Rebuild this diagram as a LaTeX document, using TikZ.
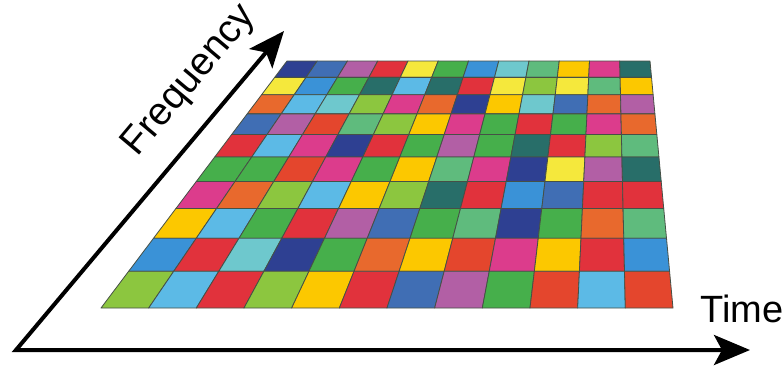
\documentclass[tikz,border=0pt]{standalone}
\usepackage{fontspec}
\setmainfont{Liberation Sans}
\usetikzlibrary{arrows.meta,calc}
\definecolor{cnavy}{RGB}{46,64,146}
\definecolor{cblue}{RGB}{64,110,180}
\definecolor{cazure}{RGB}{58,146,215}
\definecolor{csky}{RGB}{92,186,230}
\definecolor{caqua}{RGB}{110,200,205}
\definecolor{cteal}{RGB}{40,110,105}
\definecolor{cgreen}{RGB}{70,175,75}
\definecolor{clime}{RGB}{140,198,63}
\definecolor{cmint}{RGB}{95,187,125}
\definecolor{cyellow}{RGB}{245,232,60}
\definecolor{cgold}{RGB}{252,200,0}
\definecolor{corange}{RGB}{232,105,45}
\definecolor{cred}{RGB}{225,50,60}
\definecolor{cflame}{RGB}{228,70,45}
\definecolor{cmagenta}{RGB}{220,60,140}
\definecolor{cpurple}{RGB}{178,95,165}
\definecolor{gridline}{RGB}{70,80,70}

\begin{document}
\begin{tikzpicture}[x=0.5pt,y=-0.5pt,
    cell/.style={draw=gridline, line width=0.4pt, line join=round},
    axis/.style={line width=2pt, line join=miter,
        {Stealth[length=18pt,width=15pt,inset=4pt]}-{Stealth[length=18pt,width=15pt,inset=4pt]}},
    axislabel/.style={font=\fontsize{19}{21}\selectfont, inner sep=0pt}]
    \useasboundingbox (0,0) rectangle (784,366);
    % Corners of the plane
    \coordinate (TL) at (287,61);
    \coordinate (TR) at (650,61);
    \coordinate (BL) at (101,308);
    \coordinate (BR) at (673,308);
    % Cells, far row first (perspective rows)
    \foreach \rowcols [count=\r] in {
        {cnavy,cblue,cpurple,cred,cyellow,cgreen,cazure,caqua,cmint,cgold,cmagenta,cteal},
        {cyellow,cazure,cgreen,cteal,csky,cteal,cred,cyellow,clime,cyellow,cmint,cgold},
        {corange,csky,caqua,clime,cmagenta,corange,cnavy,cgold,caqua,cblue,corange,cpurple},
        {cblue,cpurple,cflame,cmint,clime,cgold,cmagenta,cgreen,cred,cgreen,cmagenta,corange},
        {cred,csky,cmagenta,cnavy,cred,cgreen,cpurple,cgreen,cteal,cred,clime,cmint},
        {cgreen,cgreen,cflame,cmagenta,cgreen,cgold,cmint,cmagenta,cnavy,cyellow,cpurple,cteal},
        {cmagenta,corange,clime,csky,cgold,clime,cteal,cred,cazure,cblue,cred,cred},
        {cgold,csky,cgreen,cred,cpurple,cblue,cgreen,cmint,cnavy,cgreen,corange,cmint},
        {cazure,cred,caqua,cnavy,cgreen,corange,cgold,cflame,cmagenta,cgold,cred,cazure},
        {clime,csky,cred,clime,cgold,cred,cblue,cpurple,cgreen,cflame,csky,cflame}} {
        \pgfmathsetmacro\sa{(1/(1.573-0.573*(\r-1)/10)-1/1.573)/(1-1/1.573)}
        \pgfmathsetmacro\sb{(1/(1.573-0.573*\r/10)-1/1.573)/(1-1/1.573)}
        \coordinate (la) at ($(TL)!\sa!(BL)$);
        \coordinate (ra) at ($(TR)!\sa!(BR)$);
        \coordinate (lb) at ($(TL)!\sb!(BL)$);
        \coordinate (rb) at ($(TR)!\sb!(BR)$);
        \foreach \cc [count=\c] in \rowcols {
            \pgfmathsetmacro\fa{(\c-1)/12}
            \pgfmathsetmacro\fb{\c/12}
            \filldraw[cell, fill=\cc] ($(la)!\fa!(ra)$) -- ($(la)!\fb!(ra)$)
                -- ($(lb)!\fb!(rb)$) -- ($(lb)!\fa!(rb)$) -- cycle;
        }
    }
    % Axes
    \coordinate (origin) at (16,350);
    \coordinate (freqtip) at (284,31);
    \coordinate (timetip) at (750,350);
    \draw[axis] (freqtip) -- (origin) -- (timetip);
    % Labels
    \node[axislabel, font=\fontsize{19.5}{21}\selectfont, rotate=50] (freqlabel) at (190,81) {Frequency};
    \node[axislabel, anchor=base west] (timelabel) at (700,322) {Time};
\end{tikzpicture}
\end{document}
